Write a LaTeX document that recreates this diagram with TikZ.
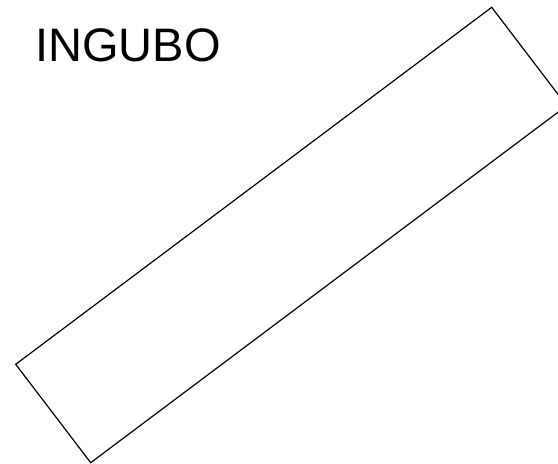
\documentclass[tikz,border=0pt]{standalone}
\usepackage{fontspec}
\setmainfont{Liberation Sans}
\usetikzlibrary{positioning}

\begin{document}
\begin{tikzpicture}[x=1pt,y=1pt]
% page frame
\useasboundingbox (0,0) rectangle (558,464);
% title
\node[font=\fontsize{47}{51}\selectfont, anchor=base west, inner sep=0pt] (title) at (35,402) {INGUBO};
% tilted bar
\coordinate (cl) at (15.7,99.7);
\coordinate (ct) at (491.7,456.7);
\coordinate (cr) at (566.7,358.3);
\coordinate (cb) at (90.7,1.3);
\draw[line width=1.2pt, line join=miter] (cl) -- (ct) -- (cr) -- (cb) -- cycle;
\end{tikzpicture}
\end{document}
